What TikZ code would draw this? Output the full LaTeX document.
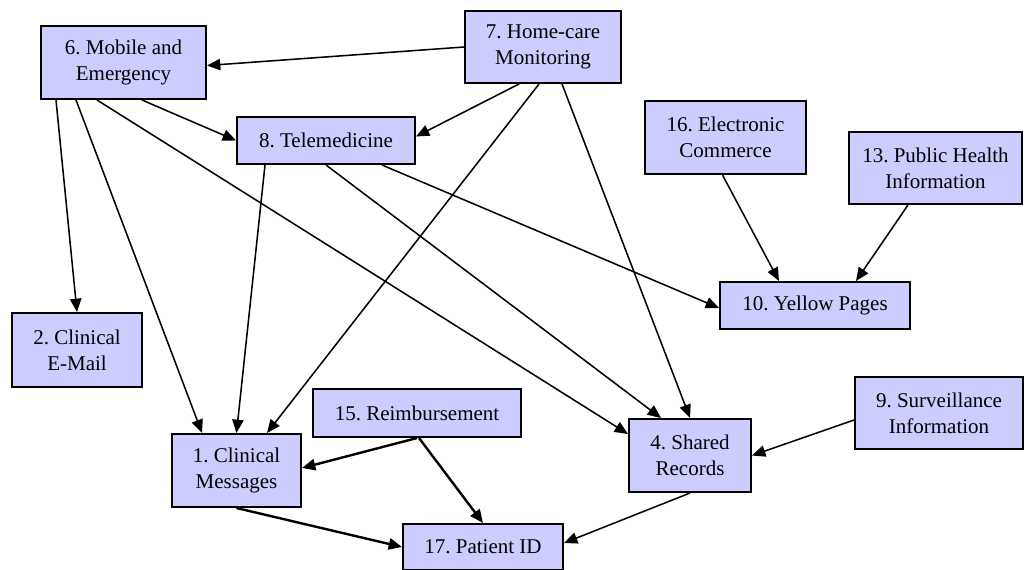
\documentclass[tikz,border=0pt]{standalone}
\usepackage{fontspec}
\setmainfont{Liberation Serif}
\usetikzlibrary{arrows.meta,calc}
\definecolor{boxfill}{HTML}{CCCCFF}
\tikzset{
  box/.style={draw=black, fill=boxfill, line width=1.5pt, inner sep=0pt,
    align=center, font=\fontsize{15.75}{19.3}\selectfont\frenchspacing},
  sz/.style 2 args={minimum width={#1*0.75pt}, minimum height={#2*0.75pt}},
  link/.style={line width=1.15pt, -{Triangle[length=10pt,width=8.5pt]}},
  boldlink/.style={link, line width=1.8pt},
}
\begin{document}
\begin{tikzpicture}[x=0.75pt,y=-0.75pt]
\useasboundingbox (0,0) rectangle (1027,569);

% services
\node[box, sz={165}{73}] (n6)  at (123.5,62.5) {6. Mobile and\\Emergency};
\node[box, sz={156}{72}] (n7)  at (543,47)     {7. Home-care\\Monitoring};
\node[box, sz={178}{47}] (n8)  at (326,140.5)  {8. Telemedicine};
\node[box, sz={161}{73}] (n16) at (725.5,137.5) {16. Electronic\\Commerce};
\node[box, sz={173}{72}] (n13) at (935.5,168)  {13. Public Health\\Information};
\node[box, sz={190}{47}] (n10) at (815,305.5)  {10. Yellow Pages};
\node[box, sz={130}{74}] (n2)  at (77,350)     {2. Clinical\\E-Mail};
\node[box, sz={208}{48}] (n15) at (417,413)    {15. Reimbursement};
\node[box, sz={129}{73}] (n1)  at (236.5,470.5) {1. Clinical\\Messages};
\node[box, sz={122}{73}] (n4)  at (690,455.5)  {4. Shared\\Records};
\node[box, sz={168}{72}] (n9)  at (939,413)    {9. Surveillance\\Information};
\node[box, sz={160}{46}] (n17) at (483,547)    {17. Patient ID};

% dependencies
\draw[link] (n7.west) -- ($(n6.east)+(0,3)$);
\draw[link] ($(n6.south west)+(102,0)$) -- (n8.west);
\draw[link] ($(n7.south west)+(55,0)$) -- ($(n8.east)+(0,-4)$);
\draw[link] ($(n6.south west)+(16,0)$) -- (n2.north);
\draw[link] ($(n6.south west)+(36,0)$) -- ($(n1.north west)+(31,0)$);
\draw[link] ($(n6.south west)+(57,0)$) -- ($(n4.north west)+(0,16)$);
\draw[link] ($(n8.south west)+(29,0)$) -- (n1.north);
\draw[link] ($(n7.south west)+(75,0)$) -- ($(n1.north west)+(96,0)$);
\draw[link] ($(n7.south west)+(98,0)$) -- (n4.north);
\draw[link] (n8.south) -- ($(n4.north west)+(33,0)$);
\draw[link] ($(n8.south west)+(146,0)$) -- ($(n10.west)+(0,2.5)$);
\draw[link] ($(n16.south)+(-3,0)$) -- ($(n10.north west)+(60,0)$);
\draw[link] ($(n13.south west)+(60,0)$) -- ($(n10.north west)+(137,0)$);
\draw[link] ($(n9.west)+(0,7)$) -- (n4.east);
\draw[boldlink] (n15.south) -- ($(n1.east)+(0,-2.5)$);
\draw[boldlink] ($(n15.south)+(2,0)$) -- (n17.north);
\draw[boldlink] (n1.south) -- (n17.west);
\draw[link] (n4.south) -- ($(n17.east)+(0,-4)$);
\end{tikzpicture}
\end{document}
